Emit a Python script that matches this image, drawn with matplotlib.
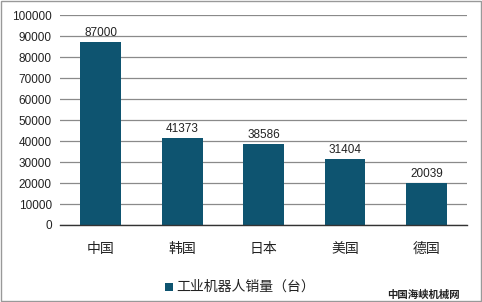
import matplotlib
matplotlib.use("Agg")
import matplotlib.pyplot as plt
from matplotlib.patches import Rectangle

plt.rcParams['font.family'] = ['Liberation Sans', 'Noto Sans CJK SC', 'DejaVu Sans']

categories = ['中国', '韩国', '日本', '美国', '德国']
values = [87000, 41373, 38586, 31404, 20039]
yticks = [0, 10000, 20000, 30000, 40000, 50000, 60000, 70000, 80000, 90000, 100000]
legend_label = '工业机器人销量（台）'
source = '中国海峡机械网'

bar_color = '#0E5470'

fig = plt.figure(figsize=(4.82, 3.02), dpi=100)
ax = fig.add_axes([0.1245, 0.255, 0.845, 0.695])

x = range(len(categories))
ax.bar(x, values, width=0.5, color=bar_color, zorder=3)
for xi, v in zip(x, values):
    ax.text(xi, v + 1500, f'{v}', ha='center', va='bottom', fontsize=8.5, color='#222222')

ax.set_xlim(-0.5, len(categories) - 0.5)
ax.set_ylim(0, 100000)
ax.set_yticks(yticks)
ax.set_yticklabels([str(t) for t in yticks], fontsize=8.5, color='#222222')
ax.set_xticks(list(x))
ax.set_xticklabels(categories, fontsize=10, color='#222222', family=['Noto Sans CJK SC'])
ax.tick_params(axis='both', length=0, pad=6)
ax.tick_params(axis='x', pad=12)
ax.grid(axis='y', color='#8a8a8a', linewidth=0.9, zorder=0)
for s in ['top', 'right', 'left']:
    ax.spines[s].set_visible(False)
ax.spines['bottom'].set_color('#333333')
ax.spines['bottom'].set_linewidth(1.0)
ax.spines['bottom'].set_zorder(4)

# legend
fig.patches.append(Rectangle((165/482, 1 - 291/302), 8/482, 8/302, transform=fig.transFigure,
                             facecolor=bar_color, edgecolor='none'))
fig.text(176/482, 1 - 287/302, legend_label, fontsize=10, va='center', ha='left',
         color='#222222', family=['Noto Sans CJK SC'])
fig.text(460/482, 1 - 295/302, source, fontsize=7.5, va='center', ha='right',
         color='#222222', fontweight='bold', family=['Noto Sans CJK SC'])

# outer border
fig.patches.append(Rectangle((0.002, 0.003), 0.995, 0.993, transform=fig.transFigure,
                             facecolor='none', edgecolor='#999999', linewidth=1.0))

fig.savefig('out.png', dpi=100)
